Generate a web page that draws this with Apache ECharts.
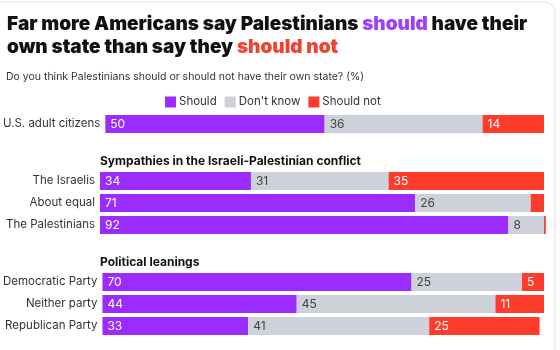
<!DOCTYPE html>
<html>
<head>
<meta charset="utf-8">
<script src="https://cdn.jsdelivr.net/npm/echarts@6/dist/echarts.min.js"></script>
<style>
  html, body { margin: 0; padding: 0; background: #fff; }
  #chart { width: 560px; height: 350px; }
</style>
</head>
<body>
<div id="chart"></div>
<script>
// group headings and rows
const groupTitles = ['', 'Sympathies in the Israeli-Palestinian conflict', 'Political leanings'];
const categories = [
  ['U.S. adult citizens'],
  ['The Israelis', 'About equal', 'The Palestinians'],
  ['Democratic Party', 'Neither party', 'Republican Party']
];
// values in %
const shouldValues = [[50], [34, 71, 92], [70, 44, 33]];
const dontKnowValues = [[36], [31, 26, 8], [25, 45, 41]];
const shouldNotValues = [[14], [35, 3, 0.4], [5, 11, 25]];

const PURPLE = '#9b2cff';
const GRAY = '#cfd1da';
const RED = '#ff3b2b';
const FONT = 'Inter, "Noto Sans", sans-serif';

// grid placement for each group
const gridTops = [113, 170, 271];
const rowH = 22;

const chart = echarts.init(document.getElementById('chart'), null, { renderer: 'canvas' });

const grids = categories.map((cats, i) => ({
  left: 100,
  right: 16,
  top: gridTops[i],
  height: rowH * cats.length
}));

const xAxes = categories.map((cats, i) => ({
  type: 'value',
  gridIndex: i,
  min: 0,
  max: 100,
  show: false
}));

const yAxes = categories.map((cats, i) => ({
  type: 'category',
  gridIndex: i,
  data: cats,
  inverse: true,
  axisLine: { show: false },
  axisTick: { show: false },
  axisLabel: { color: '#333', fontSize: 11.5, fontFamily: FONT, margin: 5 }
}));

const seriesDefs = [
  { name: 'Should', values: shouldValues, color: PURPLE, labelColor: '#fff' },
  { name: "Don't know", values: dontKnowValues, color: GRAY, labelColor: '#444' },
  { name: 'Should not', values: shouldNotValues, color: RED, labelColor: '#fff' }
];

const series = [];
categories.forEach((cats, i) => {
  seriesDefs.forEach(def => {
    series.push({
      name: def.name,
      type: 'bar',
      stack: 'g' + i,
      xAxisIndex: i,
      yAxisIndex: i,
      barWidth: 18,
      clip: false,
      itemStyle: { color: def.color },
      label: {
        show: true,
        position: 'insideLeft',
        distance: 5,
        color: def.labelColor,
        fontSize: 12,
        fontFamily: FONT,
        formatter: p => (p.value >= 4 ? p.value : '')
      },
      emphasis: { disabled: true },
      data: def.values[i]
    });
  });
});

const option = {
  animation: false,
  title: [{
    left: 2,
    top: 8,
    text: '{b|Far more Americans say Palestinians }{p|should}{b| have their}\n{b|own state than say they }{r|should not}',
    textStyle: {
      rich: {
        b: { fontSize: 19, fontWeight: 900, color: '#111', fontFamily: FONT, lineHeight: 23 },
        p: { fontSize: 19, fontWeight: 900, color: '#a13dff', fontFamily: FONT, lineHeight: 23 },
        r: { fontSize: 19, fontWeight: 900, color: '#f24130', fontFamily: FONT, lineHeight: 23 }
      }
    }
  }, {
    left: 1,
    top: 66,
    text: 'Do you think Palestinians should or should not have their own state? (%)',
    textStyle: { fontSize: 10.5, fontWeight: 'normal', color: '#333', fontFamily: FONT }
  }],
  legend: {
    left: 160,
    top: 91,
    icon: 'rect',
    itemWidth: 11,
    itemHeight: 11,
    itemGap: 8,
    selectedMode: false,
    data: ['Should', "Don't know", 'Should not'],
    textStyle: { fontSize: 11.5, color: '#333', fontFamily: FONT, padding: [0, 0, 0, -2] }
  },
  graphic: [
    {
      type: 'rect',
      shape: { x: -20, y: 2, width: 575, height: 400, r: 10 },
      style: { fill: 'none', stroke: '#e2e2e2', lineWidth: 1 },
      silent: true
    },
    {
      type: 'text',
      left: 100,
      top: 155,
      style: { text: groupTitles[1], font: 'bold 12px ' + FONT, fill: '#111' }
    },
    {
      type: 'text',
      left: 100,
      top: 256,
      style: { text: groupTitles[2], font: 'bold 12px ' + FONT, fill: '#111' }
    }
  ],
  grid: grids,
  xAxis: xAxes,
  yAxis: yAxes,
  series: series
};

chart.setOption(option);
</script>
</body>
</html>
